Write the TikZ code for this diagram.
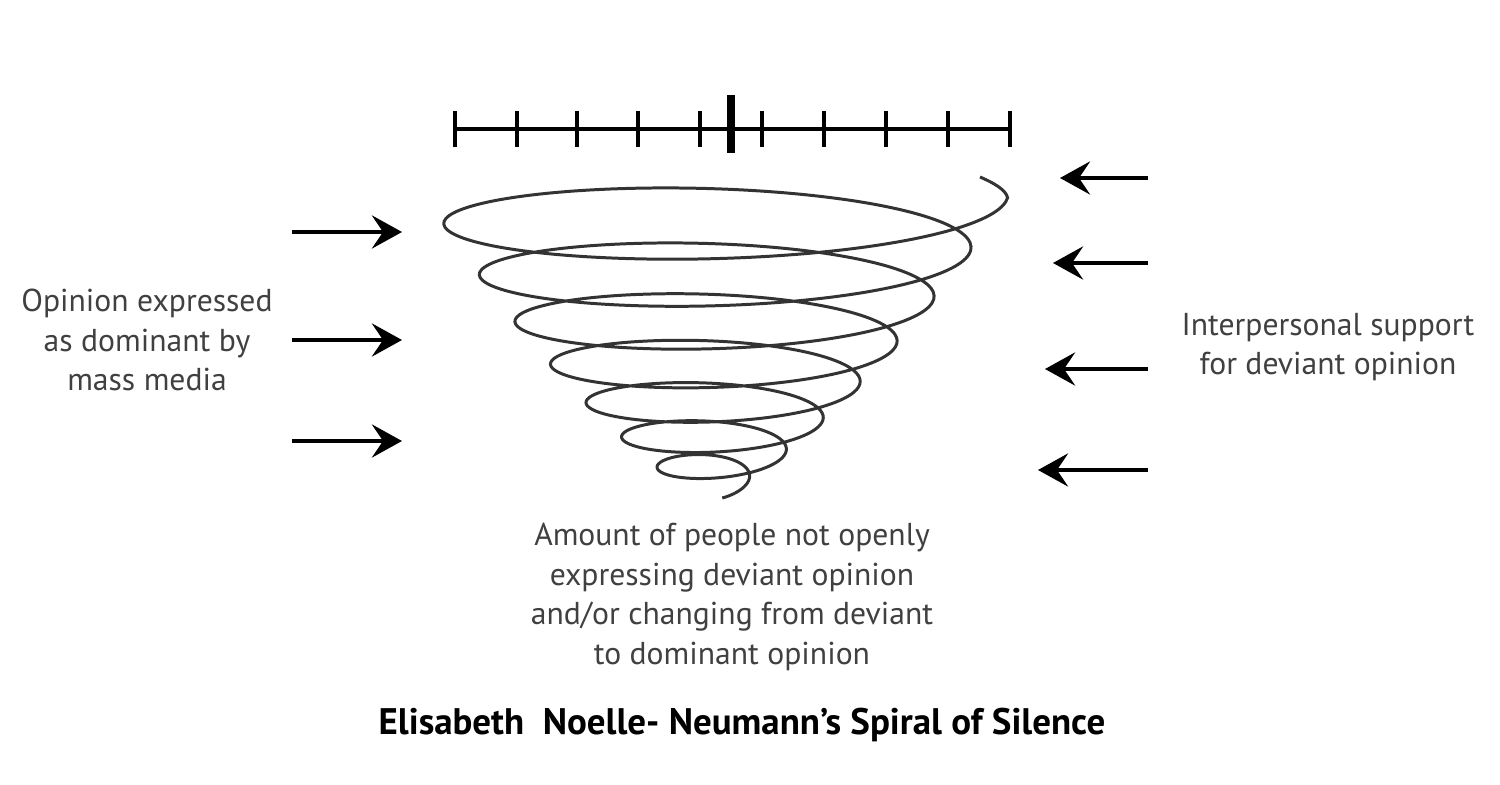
\documentclass[tikz,border=0pt]{standalone}
\usepackage{fontspec}
\setmainfont{PT Sans}
\usetikzlibrary{arrows.meta}
\tikzset{
  pressarrow/.style={-{Stealth[length=3mm, width=3.3mm, inset=1.1mm]},
    line width=1.25pt, draw=black},
  scaleline/.style={line width=1.1pt, draw=black},
  spiralline/.style={line width=0.85pt, draw=black!80},
  spiraltext/.style={align=center, inner sep=0pt, text=black!75,
    font=\fontsize{9}{11.3}\selectfont},
  spiraltitle/.style={inner sep=0pt, font=\fontsize{10.5}{12}\selectfont\bfseries},
  declare function={spt(\t)=\t+0.022*sin(2600*\t-70);}
}

\begin{document}
\begin{tikzpicture}[x=0.01cm, y=-0.01cm]
  \useasboundingbox (0,0) rectangle (1500,785);

  % opinion scale
  \draw[scaleline] (455,129) -- (1012,129);
  \foreach \x in {455,517,577,638,700,762,824,886,948,1010}
    \draw[scaleline] (\x,111) -- (\x,147);
  \draw[line width=2.4pt] (731,95) -- (731,153);

  % the spiral, rising on its right side
  \draw[spiralline, variable=\t, domain=0:0.9962, samples=600, smooth]
    plot ({712+5*\t+(30+262*\t)*cos(70-2600*\t)},
          {484-180*spt(\t)-110*spt(\t)*spt(\t)+(11+31*\t)*sin(70-2600*\t)})
    .. controls (1006,190) and (994,183) .. (980,177);

  % mass media pressure
  \foreach \y [count=\i] in {232,340,441} {
    \coordinate (media\i) at (292,\y);
    \coordinate (spiralL\i) at (402,\y);
    \draw[pressarrow] (media\i) -- (spiralL\i);
  }
  % interpersonal support
  \foreach \y/\x [count=\i] in {178/1060,263/1053,369/1045,470/1038} {
    \coordinate (support\i) at (1148,\y);
    \coordinate (spiralR\i) at (\x,\y);
    \draw[pressarrow] (support\i) -- (spiralR\i);
  }

  \node[spiraltext] (media) at (147,340)
    {Opinion expressed\\as dominant by\\mass media};
  \node[spiraltext] (support) at (1328,347)
    {Interpersonal support\\for deviant opinion};
  \node[spiraltext] (silent) at (732,597)
    {Amount of people not openly\\expressing deviant opinion\\
     and/or changing from deviant\\to dominant opinion};
  \node[spiraltitle] (title) at (742,725)
    {Elisabeth\ \ Noelle- Neumann’s Spiral of Silence};
\end{tikzpicture}
\end{document}
